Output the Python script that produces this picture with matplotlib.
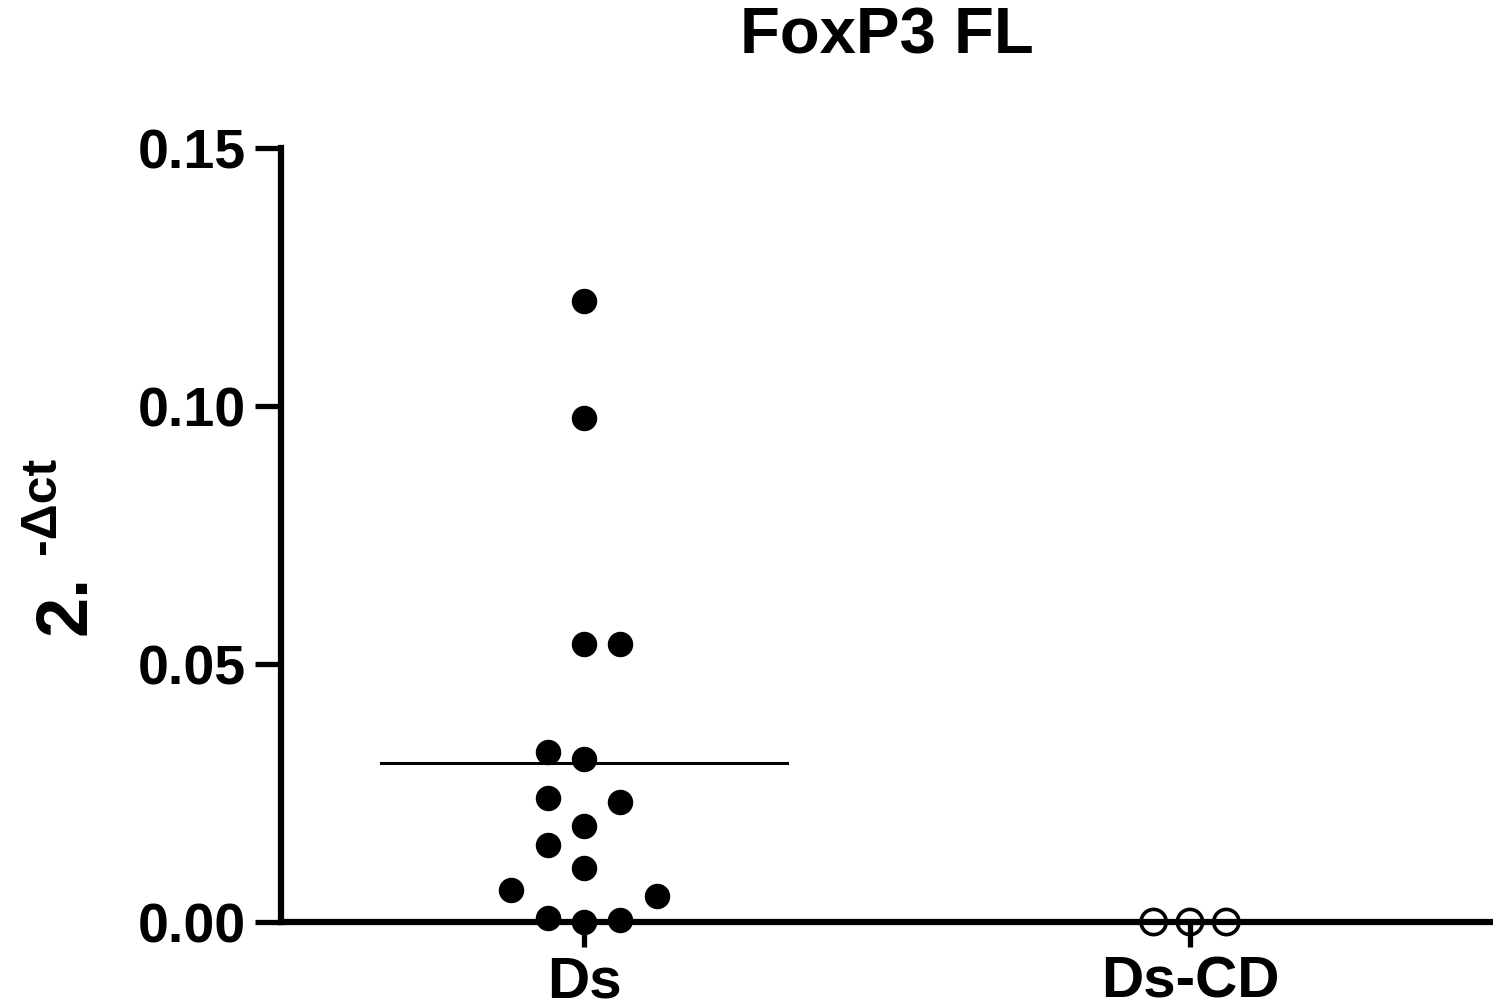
import numpy as np
import matplotlib
matplotlib.use("Agg")
import matplotlib.pyplot as plt

plt.rcParams['font.family'] = ['Liberation Sans', 'DejaVu Sans']
plt.rcParams['font.weight'] = 'bold'

# data
groups = ['Ds', 'Ds-CD']
ds_values = [0.1203, 0.0977, 0.0539, 0.0539, 0.0329, 0.0316, 0.0240, 0.0233,
             0.0186, 0.0149, 0.0105, 0.0062, 0.0050, 0.0008, 0.0, 0.0004]
ds_slots = [0, 0, 0, 1, -1, 0, -1, 1, 0, -1, 0, -2, 2, -1, 0, 1]
dscd_values = [0.0, 0.0, 0.0]
dscd_slots = [-1, 0, 1]
yticks = [0.00, 0.05, 0.10, 0.15]

slot_w = 0.06  # category units per column of the dot plot

fig = plt.figure(figsize=(14.93, 10.07), dpi=100)
ax = fig.add_axes([0.1882, 0.0844, 0.8118, 0.7686])

xs = 0 + np.array(ds_slots) * slot_w
ax.scatter(xs, ds_values, s=300, color='black', zorder=4, clip_on=False)

xs2 = 1 + np.array(dscd_slots) * slot_w
ax.scatter(xs2, dscd_values, s=330, facecolors='none', edgecolors='black',
           linewidths=2.6, zorder=4, clip_on=False)

# mean line
ax.plot([-0.335, 0.335], [np.mean(ds_values)] * 2, color='black', lw=2.2, zorder=3)

ax.set_xlim(-0.5, 1.5)
ax.set_ylim(0, 0.15)
ax.set_xticks([0, 1])
ax.set_xticklabels(groups, fontsize=42, fontweight='bold')
ax.set_yticks(yticks)
ax.set_yticklabels(['%.2f' % t for t in yticks], fontsize=40, fontweight='bold')

for side in ['top', 'right']:
    ax.spines[side].set_visible(False)
for side in ['left', 'bottom']:
    ax.spines[side].set_linewidth(4.5)
ax.tick_params(axis='y', length=19, width=3.8, pad=6)
ax.tick_params(axis='x', length=18, width=3.8, pad=6)

ax.set_title('FoxP3 FL', fontsize=47, fontweight='bold', pad=68)

# y label: "2." with a raised "-Δct"
fig.text(66 / 1493, 1 - 605 / 1007, '2.', rotation=90, fontsize=52,
         fontweight='bold', ha='center', va='center')
fig.text(42 / 1493, 1 - 505 / 1007, '-\u0394ct', rotation=90, fontsize=36,
         fontweight='bold', ha='center', va='center')

fig.savefig('out.png', dpi=100)
